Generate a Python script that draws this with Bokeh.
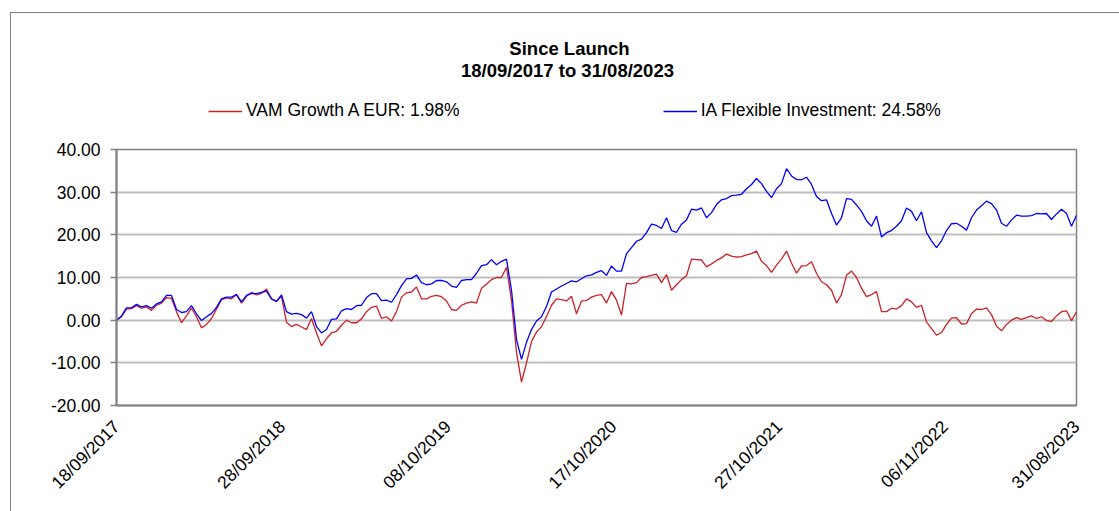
import math
import pandas as pd
from bokeh.plotting import figure
from bokeh.layouts import column
from bokeh.models import (Range1d, FixedTicker, DatetimeTickFormatter,
                          NumeralTickFormatter, Label, Legend, LegendItem)
from bokeh.embed import file_html
from bokeh.resources import INLINE

START = "2017-09-18"
END = "2023-08-31"
TITLE_1 = "Since Launch"
TITLE_2 = "18/09/2017 to 31/08/2023"
SERIES_RED = "VAM Growth A EUR: 1.98%"
SERIES_BLUE = "IA Flexible Investment: 24.58%"
TICK_DATES = ["18/09/2017", "28/09/2018", "08/10/2019", "17/10/2020",
              "27/10/2021", "06/11/2022", "31/08/2023"]
Y_TICKS = [-20, -10, 0, 10, 20, 30, 40]

BLUE = [0, 1.0, 2.9, 2.9, 3.7, 3.1, 3.4, 2.8, 3.8, 4.3,
        5.8, 5.8, 2.5, 1.8, 2.0, 3.4, 1.5, -0.1, 0.8, 1.6,
        3.0, 5.0, 5.4, 5.4, 6.0, 4.3, 5.8, 6.3, 6.2, 6.5,
        6.8, 5.0, 4.4, 5.9, 2.0, 1.4, 1.6, 1.3, 0.5, 2.0,
        -1.5, -3.0, -2.2, 0.2, 0.3, 2.2, 2.7, 2.5, 3.4, 3.5,
        5.3, 6.2, 6.2, 4.6, 4.7, 4.2, 6.0, 8.1, 9.7, 9.8,
        10.6, 8.8, 8.3, 8.5, 9.3, 9.3, 9.0, 8.0, 7.7, 9.3,
        9.5, 9.5, 11.0, 12.8, 13.0, 14.2, 13.0, 13.8, 14.3, 7.0,
        -4.5, -9.2, -5.2, -2.2, -0.2, 0.8, 3.2, 6.6, 7.3, 8.0,
        8.6, 9.2, 9.0, 9.7, 10.4, 10.6, 11.2, 11.6, 10.5, 12.7,
        11.5, 11.5, 15.6, 17.0, 18.5, 19.0, 20.5, 22.5, 22.2, 21.5,
        24.0, 21.0, 20.6, 22.5, 23.5, 26.0, 25.8, 26.3, 24.0, 25.2,
        27.1, 28.2, 28.5, 29.2, 29.3, 29.5, 30.8, 31.8, 33.2, 32.0,
        30.2, 28.7, 30.8, 32.0, 35.5, 33.8, 33.0, 32.9, 33.5, 31.8,
        29.0, 28.0, 28.2, 25.0, 22.3, 24.0, 28.5, 28.3, 27.0, 25.5,
        23.3, 22.0, 24.4, 19.5, 20.5, 21.0, 22.0, 23.3, 26.3, 25.5,
        23.3, 25.4, 20.5, 18.6, 17.0, 18.6, 21.0, 22.6, 22.7, 22.0,
        21.1, 24.0, 25.8, 26.8, 27.9, 27.3, 25.8, 22.7, 22.0, 23.5,
        24.6, 24.4, 24.4, 24.5, 25.0, 24.9, 25.0, 23.6, 24.9, 26.0,
        25.0, 22.0, 24.58]

RED = [0, 0.8, 2.6, 2.7, 3.4, 2.8, 3.1, 2.3, 3.5, 4.0,
       5.3, 5.1, 2.0, -0.6, 1.0, 2.8, 0.8, -1.8, -1.0, 0.4,
       2.6, 4.8, 5.2, 5.0, 6.0, 4.0, 5.6, 6.5, 5.9, 6.3,
       7.3, 5.0, 4.4, 5.6, -0.5, -1.5, -1.0, -1.6, -2.2, 0.4,
       -3.0, -6.0, -4.3, -3.0, -2.6, -1.2, 0.0, -0.6, -0.6, 0.3,
       2.0, 3.0, 3.3, 0.4, 0.8, -0.2, 2.0, 5.4, 6.4, 6.6,
       7.8, 5.0, 5.0, 5.6, 5.8, 5.5, 4.5, 2.5, 2.3, 3.5,
       4.0, 4.3, 4.0, 7.5, 8.4, 9.5, 10.0, 10.0, 12.4, 4.6,
       -7.5, -14.5, -10.0, -5.0, -2.8, -1.5, 0.8, 3.5, 5.0, 4.8,
       4.5, 5.6, 1.5, 4.5, 4.6, 5.4, 5.8, 6.0, 4.0, 6.7,
       4.7, 1.2, 8.6, 8.5, 8.8, 10.0, 10.2, 10.5, 10.8, 8.8,
       10.7, 7.0, 8.3, 9.5, 10.4, 14.3, 14.2, 14.1, 12.5, 13.2,
       14.0, 14.6, 15.5, 15.0, 14.8, 14.9, 15.3, 15.6, 16.2, 13.8,
       12.8, 11.2, 12.9, 14.3, 16.2, 13.4, 11.0, 12.7, 12.8, 13.7,
       11.0, 9.0, 8.3, 7.0, 4.0, 6.0, 10.5, 11.5, 10.0, 7.5,
       5.5, 6.0, 6.7, 2.0, 2.0, 2.8, 2.6, 3.4, 5.0, 4.3,
       3.0, 3.5, -0.4, -2.0, -3.5, -2.9, -1.0, 0.5, 0.6, -0.9,
       -0.8, 1.5, 2.6, 2.5, 2.9, 1.3, -1.4, -2.5, -1.0, 0.0,
       0.6, 0.2, 0.6, 1.0, 0.4, 0.8, -0.1, -0.3, 1.0, 2.0,
       2.2, -0.1, 1.98]

RED_COLOR = "#CD2128"
BLUE_COLOR = "#0000FF"
GRAY = "#808080"
FONT = "Liberation Sans"

dates = pd.date_range(START, END, periods=len(BLUE))
tick_ts = pd.to_datetime(TICK_DATES, format="%d/%m/%Y")
tick_ms = [int(t.value // 10**6) for t in tick_ts]

# ---------- header (titles + legend) ----------
head = figure(width=1108, height=126, x_range=Range1d(0, 1), y_range=Range1d(0, 1),
              x_axis_location=None, y_axis_location=None,
              min_border_left=0, min_border_right=0, min_border_top=0, min_border_bottom=0,
              output_backend="svg", toolbar_location=None)
head.outline_line_color = None
head.background_fill_color = "white"
head.border_fill_color = "white"
head.grid.visible = False

for txt, xx, yy in [(TITLE_1, 453, 91), (TITLE_2, 451, 69)]:
    head.add_layout(Label(x=xx, y=yy, x_units="screen", y_units="screen", text=txt,
                          text_align="center", text_baseline="middle",
                          text_font=FONT, text_font_size="18.5px", text_font_style="bold",
                          text_color="black"))

# legend proxies (a single NaN point: nothing is drawn in the header)
h_red = head.line(x=[0.0], y=[float("nan")], line_color=RED_COLOR, line_width=1.3)
h_blue = head.line(x=[0.0], y=[float("nan")], line_color=BLUE_COLOR, line_width=1.3)
legend = Legend(items=[LegendItem(label=SERIES_RED, renderers=[h_red]),
                       LegendItem(label=SERIES_BLUE, renderers=[h_blue])],
                orientation="horizontal", location=(92, 18), margin=0, padding=0,
                spacing=203, glyph_width=34, glyph_height=20, label_standoff=4,
                label_text_font=FONT, label_text_font_size="17.5px",
                label_text_color="black", border_line_color=None,
                background_fill_alpha=0)
head.add_layout(legend, "center")

# ---------- main chart ----------
p = figure(x_axis_type="datetime",
           frame_width=960, frame_height=256,
           min_border_left=105, min_border_top=10,
           min_border_right=43, min_border_bottom=106,
           x_range=Range1d(dates[0], dates[-1]),
           y_range=Range1d(-20, 40),
           output_backend="svg", toolbar_location=None)

p.background_fill_color = "white"
p.border_fill_color = "white"
p.outline_line_color = GRAY
p.outline_line_width = 1.5

xa = p.xaxis[0]
xa.ticker = FixedTicker(ticks=tick_ms)
fmt = "%d/%m/%Y"
xa.formatter = DatetimeTickFormatter(microseconds=fmt, milliseconds=fmt, seconds=fmt,
                                     minsec=fmt, minutes=fmt, hourmin=fmt, hours=fmt,
                                     days=fmt, months=fmt, years=fmt)
xa.major_label_orientation = math.pi / 4
xa.major_label_text_font = FONT
xa.major_label_text_font_size = "17.5px"
xa.major_label_text_color = "black"
xa.major_tick_out = 0
xa.major_tick_in = 0
xa.minor_tick_out = 0
xa.minor_tick_in = 0
xa.axis_line_color = GRAY
xa.axis_line_width = 2
xa.major_label_standoff = 18

ya = p.yaxis[0]
ya.ticker = FixedTicker(ticks=Y_TICKS)
ya.formatter = NumeralTickFormatter(format="0.00")
ya.major_label_text_font = FONT
ya.major_label_text_font_size = "17.5px"
ya.major_label_text_color = "black"
ya.major_tick_out = 6
ya.major_tick_in = 0
ya.minor_tick_out = 0
ya.minor_tick_in = 0
ya.major_tick_line_color = GRAY
ya.major_tick_line_width = 1.5
ya.axis_line_color = GRAY
ya.axis_line_width = 2
ya.major_label_standoff = 10

p.xgrid.grid_line_color = None
p.ygrid.grid_line_color = "#BEBEBE"
p.ygrid.grid_line_width = 2

p.line(dates, RED, line_color=RED_COLOR, line_width=1.3)
p.line(dates, BLUE, line_color=BLUE_COLOR, line_width=1.3)

layout = column(head, p, spacing=0,
                styles={"margin-left": "10px", "margin-top": "12px",
                        "border-left": "1px solid #808080",
                        "border-top": "1px solid #808080"})

open("out.html", "w").write(file_html(layout, INLINE))
